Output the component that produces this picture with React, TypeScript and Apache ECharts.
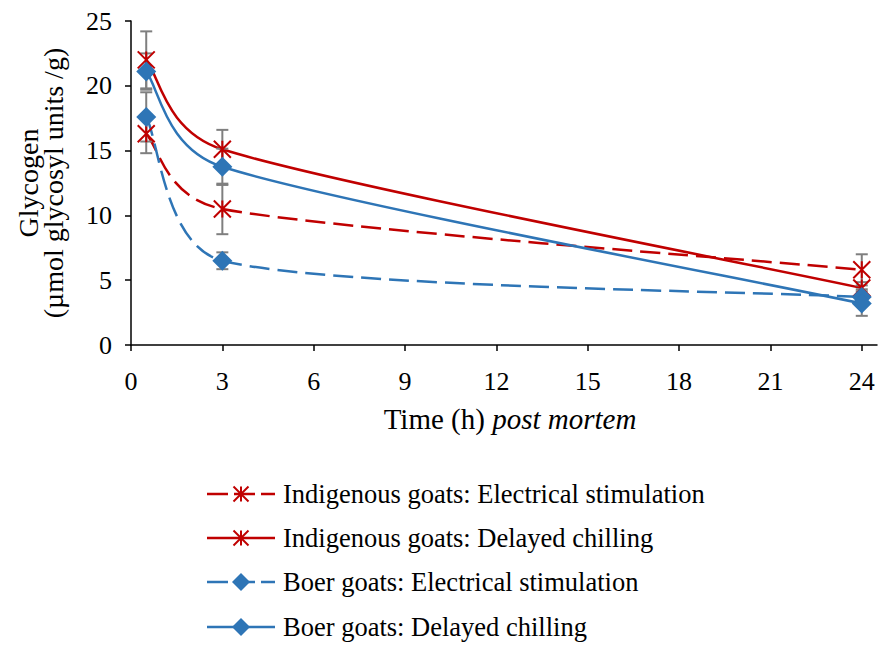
import React, { useEffect, useRef } from "react";
import * as echarts from "echarts";

// Sampling times (h post mortem)
const hours = [0.5, 3, 24];

// Glycogen means (µmol glycosyl units/g) and their error half-widths
const indigenousES = [16.3, 10.5, 5.8];
const indigenousESErr = [1.5, 1.95, 1.2];
const indigenousDC = [22.0, 15.1, 4.4];
const indigenousDCErr = [2.2, 1.5, 0.45];
const boerES = [17.6, 6.5, 3.7];
const boerESErr = [1.9, 0.65, 0.6];
const boerDC = [21.1, 13.75, 3.2];
const boerDCErr = [1.4, 1.4, 0.95];

const xTicks = [0, 3, 6, 9, 12, 15, 18, 21, 24];

const names = [
  "Indigenous goats: Electrical stimulation",
  "Indigenous goats: Delayed chilling",
  "Boer goats: Electrical stimulation",
  "Boer goats: Delayed chilling",
];

const RED = "#C00000";
const BLUE = "#2E75B6";
const GREY = "#7F7F7F";
const FONT = "Liberation Serif";
const DASH = [20, 8];

const STAR = "path://M0,0L12,12M12,0L0,12M6,0L6,12";

// Bezier tangent factors for the smoothed connecting curves
const END_K = 1 / 6;
const IN_K = 0.08;
const OUT_K = 0.15;

function bars(v: number[], e: number[]) {
  return hours.map((h, i) => [h, v[i] - e[i], v[i] + e[i]]);
}

function errorSeries(v: number[], e: number[]) {
  return {
    type: "custom",
    silent: true,
    z: 3,
    data: bars(v, e),
    encode: { x: 0, y: [1, 2] },
    renderItem: (_p: any, api: any) => {
      const x = api.value(0);
      const top = api.coord([x, api.value(2)]);
      const bot = api.coord([x, api.value(1)]);
      const hw = 6;
      const st = { stroke: GREY, lineWidth: 2 };
      return {
        type: "group",
        children: [
          { type: "line", shape: { x1: top[0], y1: top[1], x2: bot[0], y2: bot[1] }, style: st },
          { type: "line", shape: { x1: top[0] - hw, y1: top[1], x2: top[0] + hw, y2: top[1] }, style: st },
          { type: "line", shape: { x1: bot[0] - hw, y1: bot[1], x2: bot[0] + hw, y2: bot[1] }, style: st },
        ],
      };
    },
  };
}

// Smoothed curve through the means, built segment by segment in pixel space
function curveSeries(v: number[], color: string, dashed: boolean) {
  const flat: number[] = [];
  hours.forEach((h, i) => flat.push(h, v[i]));
  return {
    type: "custom",
    silent: true,
    z: 2,
    data: [flat],
    encode: { x: [0, 2, 4], y: [1, 3, 5] },
    renderItem: (_p: any, api: any) => {
      const n = hours.length;
      const P: number[][] = [];
      for (let i = 0; i < n; i++) P.push(api.coord([api.value(2 * i), api.value(2 * i + 1)]));
      const tan = (i: number) => [P[i + 1][0] - P[i - 1][0], P[i + 1][1] - P[i - 1][1]];
      const children: any[] = [];
      for (let i = 0; i < n - 1; i++) {
        const a = P[i];
        const b = P[i + 1];
        let c1: number[];
        let c2: number[];
        if (i === 0) c1 = [a[0] + (b[0] - a[0]) * END_K, a[1] + (b[1] - a[1]) * END_K];
        else {
          const t = tan(i);
          c1 = [a[0] + t[0] * OUT_K, a[1] + t[1] * OUT_K];
        }
        if (i + 1 === n - 1) c2 = [b[0] - (b[0] - a[0]) * END_K, b[1] - (b[1] - a[1]) * END_K];
        else {
          const t = tan(i + 1);
          c2 = [b[0] - t[0] * IN_K, b[1] - t[1] * IN_K];
        }
        children.push({
          type: "bezierCurve",
          shape: { x1: a[0], y1: a[1], cpx1: c1[0], cpy1: c1[1], cpx2: c2[0], cpy2: c2[1], x2: b[0], y2: b[1] },
          style: { stroke: color, lineWidth: 2.5, fill: null, lineDash: dashed ? DASH : null },
        });
      }
      return { type: "group", children };
    },
  };
}

function markerSeries(name: string, v: number[], color: string, star: boolean) {
  return {
    name,
    type: "scatter",
    z: 4,
    data: hours.map((h, i) => [h, v[i]]),
    symbol: star ? STAR : "diamond",
    symbolSize: star ? 17 : 20,
    itemStyle: star
      ? { color: "rgba(0,0,0,0)", borderColor: color, borderWidth: 2, opacity: 1 }
      : { color, borderWidth: 0, opacity: 1 },
  };
}

// Legend rows drawn as graphic elements
function legendGraphics() {
  const rows = [494, 538, 582, 627];
  const styles = [
    { color: RED, dashed: true, star: true },
    { color: RED, dashed: false, star: true },
    { color: BLUE, dashed: true, star: false },
    { color: BLUE, dashed: false, star: false },
  ];
  const x0 = 207;
  const x1 = 275;
  const cx = 241;
  const out: any[] = [];
  rows.forEach((y, i) => {
    const s = styles[i];
    out.push({
      type: "line",
      shape: { x1: x0, y1: y, x2: x1, y2: y },
      style: { stroke: s.color, lineWidth: 2.5, lineDash: s.dashed ? [21, 6] : null },
    });
    if (s.star) {
      const r = 7.5;
      const st = { stroke: s.color, lineWidth: 2 };
      out.push({ type: "line", shape: { x1: cx - r, y1: y - r, x2: cx + r, y2: y + r }, style: st });
      out.push({ type: "line", shape: { x1: cx - r, y1: y + r, x2: cx + r, y2: y - r }, style: st });
      out.push({ type: "line", shape: { x1: cx, y1: y - r, x2: cx, y2: y + r }, style: st });
    } else {
      const r = 9;
      out.push({
        type: "polygon",
        shape: { points: [[cx, y - r], [cx + r, y], [cx, y + r], [cx - r, y]] },
        style: { fill: s.color },
      });
    }
    out.push({
      type: "text",
      x: 283,
      y,
      style: { text: names[i], font: `26.5px ${FONT}`, fill: "#000", verticalAlign: "middle", align: "left" },
    });
  });
  return out;
}

export default function App() {
  const ref = useRef<HTMLDivElement>(null);

  useEffect(() => {
    if (!ref.current) return;
    const chart = echarts.init(ref.current, undefined, { renderer: "svg" });
    chart.setOption({
      animation: false,
      backgroundColor: "#ffffff",
      textStyle: { fontFamily: FONT },
      grid: { left: 131, top: 21, right: 1, bottom: 301, containLabel: false },
      xAxis: {
        type: "value",
        min: 0,
        max: 24.5,
        splitLine: { show: false },
        axisLine: { show: true, lineStyle: { color: "#000", width: 1.5 } },
        axisTick: { show: true, length: 6, customValues: xTicks, lineStyle: { color: "#000", width: 1.5 } },
        axisLabel: { customValues: xTicks, color: "#000", fontSize: 26, fontFamily: FONT, margin: 23 },
        name: "{a|Time (h) }{b|post mortem}",
        nameLocation: "middle",
        nameGap: 59,
        nameTextStyle: {
          padding: [0, 0, 0, 12],
          rich: {
            a: { fontSize: 29, fontFamily: FONT, color: "#000" },
            b: { fontSize: 29, fontFamily: FONT, color: "#000", fontStyle: "italic" },
          },
        },
      },
      yAxis: {
        type: "value",
        min: 0,
        max: 25,
        interval: 5,
        splitLine: { show: false },
        axisLine: { show: true, lineStyle: { color: "#000", width: 1.5 } },
        axisTick: { show: true, length: 6, lineStyle: { color: "#000", width: 1.5 } },
        axisLabel: { color: "#000", fontSize: 26, fontFamily: FONT, margin: 19 },
        name: "Glycogen\n(µmol glycosyl units /g)",
        nameLocation: "middle",
        nameRotate: 90,
        nameGap: 65,
        nameTextStyle: { fontSize: 28, fontFamily: FONT, color: "#000", lineHeight: 25 },
      },
      graphic: legendGraphics(),
      series: [
        curveSeries(indigenousES, RED, true),
        curveSeries(indigenousDC, RED, false),
        curveSeries(boerES, BLUE, true),
        curveSeries(boerDC, BLUE, false),
        errorSeries(indigenousES, indigenousESErr),
        errorSeries(indigenousDC, indigenousDCErr),
        errorSeries(boerES, boerESErr),
        errorSeries(boerDC, boerDCErr),
        markerSeries(names[0], indigenousES, RED, true),
        markerSeries(names[1], indigenousDC, RED, true),
        markerSeries(names[2], boerES, BLUE, false),
        markerSeries(names[3], boerDC, BLUE, false),
      ],
    });
    return () => chart.dispose();
  }, []);

  return (
    <div
      ref={ref}
      style={{ position: "fixed", left: 0, top: 0, width: 878, height: 646, background: "#fff" }}
    />
  );
}
